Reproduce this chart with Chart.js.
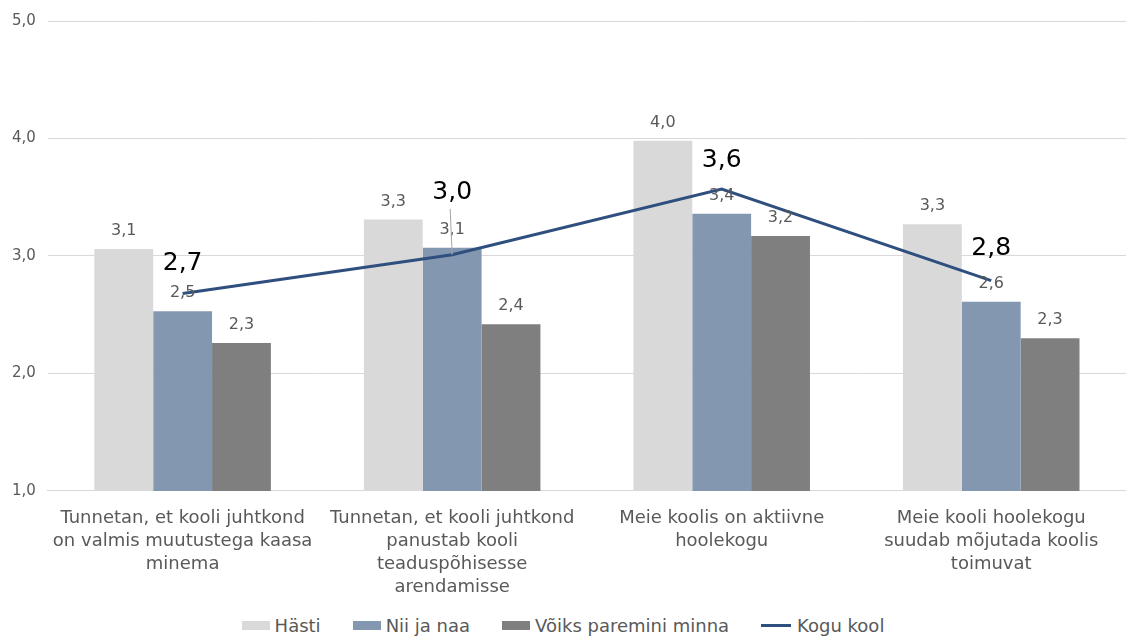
<!DOCTYPE html>
<html>
<head>
<meta charset="utf-8">
<script src="https://cdn.jsdelivr.net/npm/chart.js@4.4.1/dist/chart.umd.min.js"></script>
<style>
    html, body { margin: 0; padding: 0; background: #ffffff; overflow: hidden; }
    #page { position: relative; width: 1126px; height: 637px; }
    #wrap { position: absolute; left: 0; top: 0; width: 1126px; height: 607px; }
    #legend {
        position: absolute; left: 0; top: 613px; width: 1126px; height: 24px;
        display: flex; justify-content: center; align-items: center;
        font-family: "DejaVu Sans"; font-size: 18px; color: #595959;
    }
    .legend-item { display: flex; align-items: center; margin: 0 16px; }
    .legend-color { display: inline-block; width: 28px; height: 9px; margin-right: 5px; }
    .legend-line { display: inline-block; width: 30px; height: 3px; margin-right: 6px; }
</style>
</head>
<body>
<div id="page">
    <div id="wrap"><canvas id="chart"></canvas></div>
    <div id="legend"></div>
</div>
<script>
// kategooriad (mitmerealised sildid)
const categories = [
    ['Tunnetan, et kooli juhtkond', 'on valmis muutustega kaasa', 'minema'],
    ['Tunnetan, et kooli juhtkond', 'panustab kooli', 'teaduspõhisesse', 'arendamisse'],
    ['Meie koolis on aktiivne', 'hoolekogu'],
    ['Meie kooli hoolekogu', 'suudab mõjutada koolis', 'toimuvat']
];

const seriesNames = ['Hästi', 'Nii ja naa', 'Võiks paremini minna', 'Kogu kool'];

const hastiValues = [3.06, 3.31, 3.98, 3.27];
const niijanaaValues = [2.53, 3.07, 3.36, 2.61];
const voiksValues = [2.26, 2.42, 3.17, 2.30];
const koguKoolValues = [2.68, 3.01, 3.57, 2.79];

const yTicks = [1, 2, 3, 4, 5];

const colors = ['#d9d9d9', '#8497b0', '#7f7f7f', '#2f4f7f'];

const fmt = v => v.toFixed(1).replace('.', ',');

// andmesiltide joonistamine
const labelPlugin = {
    id: 'valueLabels',
    afterDatasetsDraw(chart) {
        const ctx = chart.ctx;
        ctx.save();
        ctx.textAlign = 'center';
        ctx.textBaseline = 'bottom';
        chart.data.datasets.forEach((ds, i) => {
            const meta = chart.getDatasetMeta(i);
            meta.data.forEach((el, j) => {
                const text = fmt(ds.data[j]);
                if (ds.type === 'line') {
                    const lift = (ds.labelLift && ds.labelLift[j]) || 18;
                    ctx.font = '25px "DejaVu Sans"';
                    ctx.fillStyle = '#000000';
                    ctx.fillText(text, el.x, el.y - lift);
                    // viiktelg, kui silt on kaugemale nihutatud
                    if (lift > 30) {
                        ctx.strokeStyle = '#a6a6a6';
                        ctx.lineWidth = 1;
                        ctx.beginPath();
                        ctx.moveTo(el.x - 2, el.y - lift + 4);
                        ctx.lineTo(el.x, el.y);
                        ctx.stroke();
                    }
                } else {
                    ctx.font = '16px "DejaVu Sans"';
                    ctx.fillStyle = '#595959';
                    ctx.fillText(text, el.x, el.y - 10);
                }
            });
        });
        ctx.restore();
    }
};

const chart = new Chart(document.getElementById('chart'), {
    type: 'bar',
    data: {
        labels: categories,
        datasets: [
            {
                label: seriesNames[0],
                data: hastiValues,
                backgroundColor: colors[0],
                borderWidth: 0,
                order: 1
            },
            {
                label: seriesNames[1],
                data: niijanaaValues,
                backgroundColor: colors[1],
                borderWidth: 0,
                order: 1
            },
            {
                label: seriesNames[2],
                data: voiksValues,
                backgroundColor: colors[2],
                borderWidth: 0,
                order: 1
            },
            {
                type: 'line',
                label: seriesNames[3],
                data: koguKoolValues,
                borderColor: colors[3],
                backgroundColor: colors[3],
                borderWidth: 3,
                pointRadius: 0,
                tension: 0,
                order: 0,
                labelLift: [18, 50, 16, 20]
            }
        ]
    },
    options: {
        responsive: true,
        maintainAspectRatio: false,
        animation: false,
        layout: {
            padding: { top: 11, right: 0, left: 0, bottom: 0 }
        },
        datasets: {
            bar: {
                categoryPercentage: 0.655,
                barPercentage: 1
            }
        },
        scales: {
            x: {
                grid: { display: false },
                border: { display: true, color: '#d9d9d9', width: 1 },
                ticks: {
                    color: '#595959',
                    font: { family: 'DejaVu Sans', size: 18, lineHeight: 1.278 },
                    maxRotation: 0,
                    autoSkip: false,
                    padding: 8
                }
            },
            y: {
                min: 1,
                max: 5,
                grid: { color: '#d9d9d9', lineWidth: 1, drawTicks: false },
                border: { display: false },
                afterBuildTicks(axis) {
                    axis.ticks = yTicks.map(v => ({ value: v }));
                },
                ticks: {
                    color: '#595959',
                    font: { family: 'DejaVu Sans', size: 15 },
                    padding: 12,
                    callback: v => fmt(v)
                }
            }
        },
        plugins: {
            legend: { display: false },
            tooltip: { enabled: false }
        }
    },
    plugins: [labelPlugin]
});

// HTML legend
document.getElementById('legend').innerHTML = chart.data.datasets.map((ds, i) => {
    const mark = ds.type === 'line'
        ? `<span class="legend-line" style="background: ${colors[i]}"></span>`
        : `<span class="legend-color" style="background: ${colors[i]}"></span>`;
    return `<div class="legend-item">${mark}<span>${ds.label}</span></div>`;
}).join('');
</script>
</body>
</html>
